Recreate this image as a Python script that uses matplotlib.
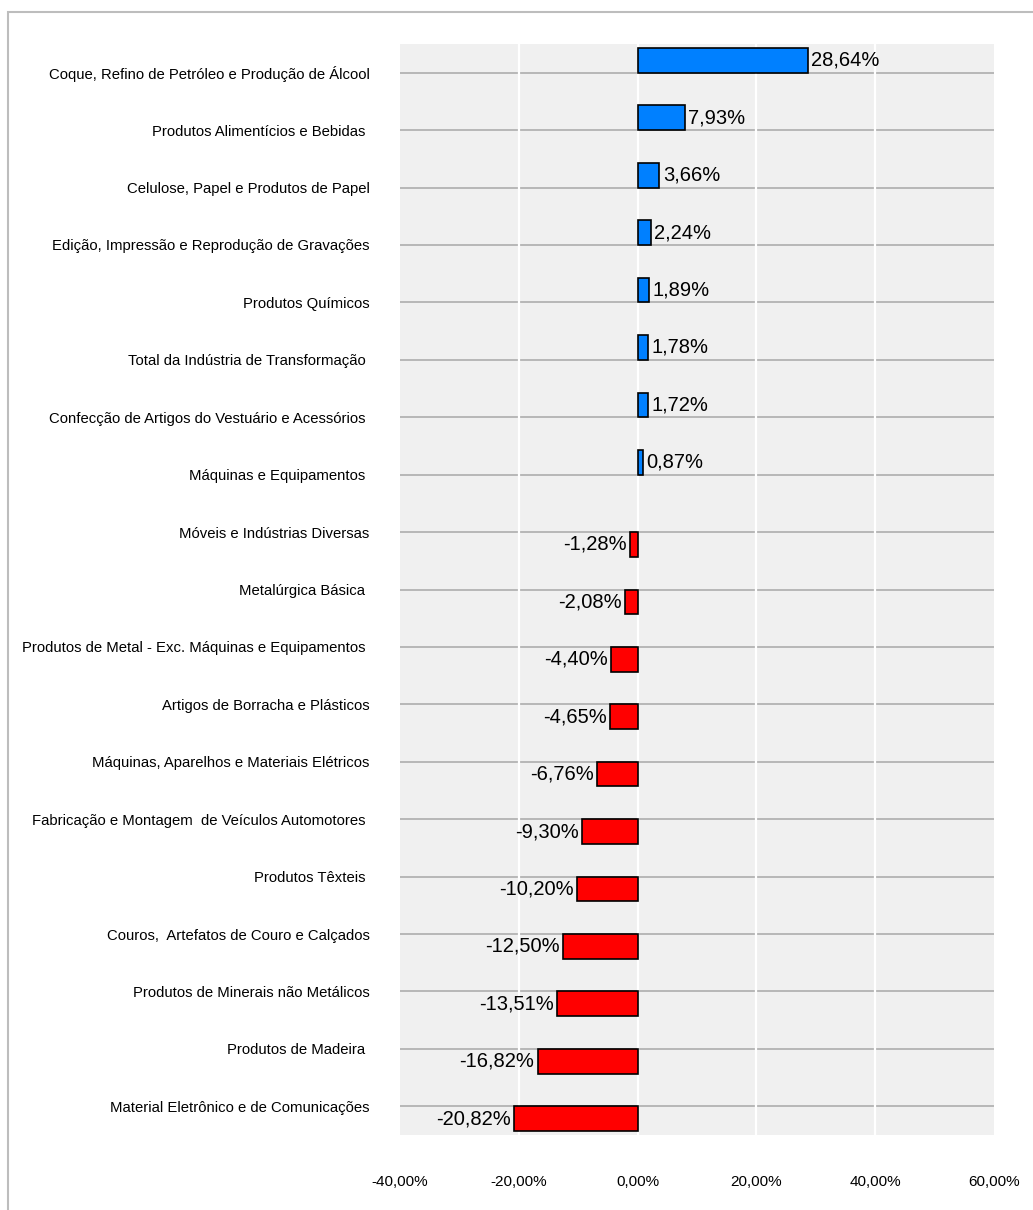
import matplotlib.pyplot as plt
from matplotlib.patches import Rectangle

categorias = [
    "Coque, Refino de Petróleo e Produção de Álcool",
    "Produtos Alimentícios e Bebidas ",
    "Celulose, Papel e Produtos de Papel",
    "Edição, Impressão e Reprodução de Gravações",
    "Produtos Químicos",
    "Total da Indústria de Transformação ",
    "Confecção de Artigos do Vestuário e Acessórios ",
    "Máquinas e Equipamentos ",
    "Móveis e Indústrias Diversas",
    "Metalúrgica Básica ",
    "Produtos de Metal - Exc. Máquinas e Equipamentos ",
    "Artigos de Borracha e Plásticos",
    "Máquinas, Aparelhos e Materiais Elétricos",
    "Fabricação e Montagem  de Veículos Automotores ",
    "Produtos Têxteis ",
    "Couros,  Artefatos de Couro e Calçados",
    "Produtos de Minerais não Metálicos",
    "Produtos de Madeira ",
    "Material Eletrônico e de Comunicações",
]
variacao = [28.64, 7.93, 3.66, 2.24, 1.89, 1.78, 1.72, 0.87,
            -1.28, -2.08, -4.40, -4.65, -6.76, -9.30, -10.20,
            -12.50, -13.51, -16.82, -20.82]
xticks = [-40, -20, 0, 20, 40, 60]

plt.rcParams['font.family'] = ['Liberation Sans', 'DejaVu Sans']

fig = plt.figure(figsize=(10.33, 12.10), dpi=100)
fig.patches.append(Rectangle((8 / 1033, -0.01), 1.0, 1.01 - 12 / 1210, transform=fig.transFigure,
                             fill=False, edgecolor='#bdbdbd', linewidth=1.5))

ax = fig.add_axes([400 / 1033, 1 - 1135 / 1210, 594 / 1033, 1091 / 1210])
ax.set_facecolor('#f0f0f0')

n = len(categorias)
h = 0.43
pos = list(range(n))

# linhas de grade
for y in pos:
    ax.axhline(y, color='#b3b3b3', linewidth=1.3, zorder=1)
for x in [-20, 0, 20, 40]:
    ax.axvline(x, color='white', linewidth=1.6, zorder=2)

for y, v in zip(pos, variacao):
    txt = f"{v:.2f}%".replace('.', ',')
    if v >= 0:
        ax.barh(y - h / 2, v, height=h, color='#0080ff', edgecolor='black',
                linewidth=1.2, zorder=3)
        ax.annotate(txt, (v, y - h / 2), xytext=(2.5, 0),
                    textcoords='offset points', ha='left', va='center', fontsize=14.5)
    else:
        ax.barh(y + h / 2, v, height=h, color='#ff0000', edgecolor='black',
                linewidth=1.2, zorder=3)
        ax.annotate(txt, (v, y + h / 2), xytext=(-2.5, 0),
                    textcoords='offset points', ha='right', va='center', fontsize=14.5)

ax.set_xlim(-40, 60)
ax.set_ylim(n - 0.5, -0.5)
ax.set_xticks(xticks)
ax.set_xticklabels([f"{t:.2f}%".replace('.', ',') for t in xticks], fontsize=11)
ax.set_yticks(pos)
ax.set_yticklabels(categorias, fontsize=10.7)
ax.tick_params(axis='x', length=0, pad=29)
ax.tick_params(axis='y', length=0, pad=22)
for s in ax.spines.values():
    s.set_visible(False)

plt.savefig('out.png', dpi=100)
